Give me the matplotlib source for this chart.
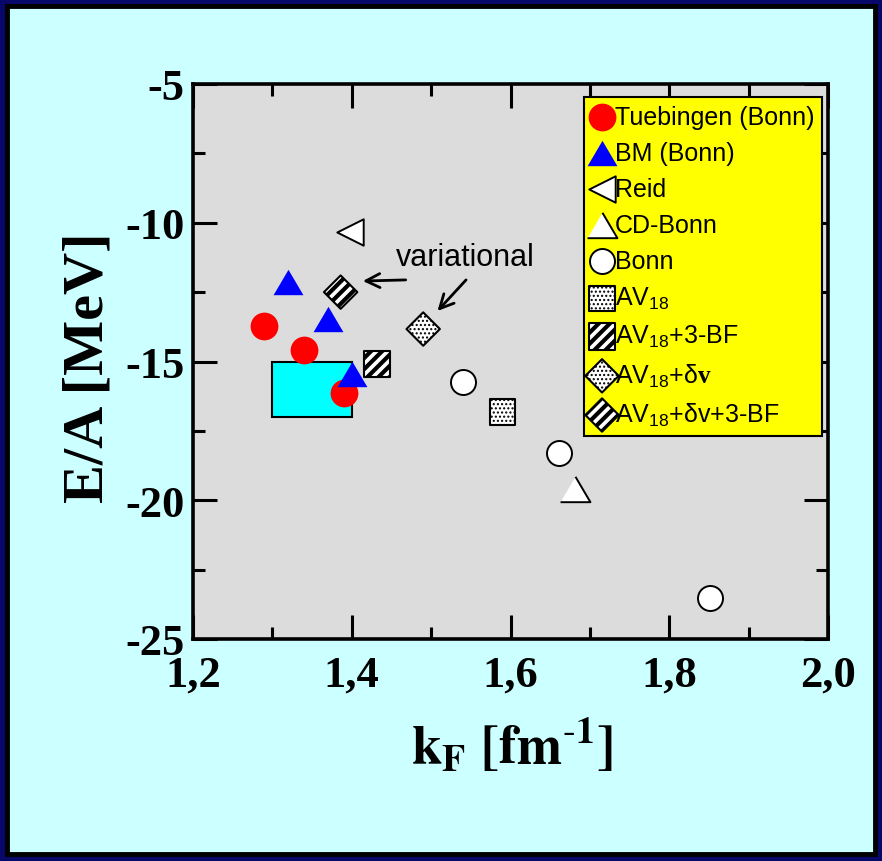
import matplotlib
matplotlib.use("Agg")
import matplotlib.pyplot as plt
from matplotlib.patches import Rectangle

plt.rcParams['font.family'] = ['Liberation Sans', 'DejaVu Sans']
plt.rcParams['mathtext.fontset'] = 'custom'
plt.rcParams['mathtext.rm'] = 'Liberation Sans'
plt.rcParams['mathtext.it'] = 'Liberation Sans:italic'
plt.rcParams['mathtext.bf'] = 'Liberation Serif:bold'

# --- nuclear matter saturation points, k_F [fm^-1] vs E/A [MeV] ---
tueb_kf = [1.289, 1.340, 1.390]
tueb_ea = [-13.72, -14.59, -16.14]
bm_kf = [1.320, 1.370, 1.400]
bm_ea = [-12.14, -13.47, -15.45]
reid_kf = [1.398]
reid_ea = [-10.33]
cdbonn_kf = [1.681]
cdbonn_ea = [-19.58]
bonn_kf = [1.540, 1.661, 1.851]
bonn_ea = [-15.74, -18.30, -23.52]
av18_kf = [1.590]
av18_ea = [-16.82]
av18_3bf_kf = [1.432]
av18_3bf_ea = [-15.09]
av18_dv_kf = [1.490]
av18_dv_ea = [-13.83]
av18_dv_3bf_kf = [1.386]
av18_dv_3bf_ea = [-12.50]

# empirical saturation region
coester_kf = (1.30, 1.40)
coester_ea = (-17.0, -15.0)

# "variational" arrows: (tail, head)
var_text = (1.543, -11.25)
var_arrows = [((1.468, -12.06), (1.414, -12.10)),
              ((1.544, -12.06), (1.508, -13.18))]

x_ticks = [1.2, 1.4, 1.6, 1.8, 2.0]
x_ticklabels = ['1,2', '1,4', '1,6', '1,8', '2,0']
y_ticks = [-25, -20, -15, -10, -5]
y_ticklabels = ['-25', '-20', '-15', '-10', '-5']

TRI_UP = [(-1, -0.85), (1, -0.85), (0, 0.85)]
DOT_LW = 1.0
STRIPE_LW = 3.0


def set_hatch_width(coll, lw):
    if hasattr(coll, 'set_hatch_linewidth'):
        coll.set_hatch_linewidth(lw)
    else:
        coll._hatch_linewidth = lw


fig = plt.figure(figsize=(8.82, 8.62), dpi=100)
fig.patch.set_facecolor('#08086b')
fig.add_artist(Rectangle((7 / 882, 7 / 862), 868 / 882, 848 / 862,
                         transform=fig.transFigure, facecolor='#ccffff',
                         edgecolor='black', linewidth=3.5, zorder=-10))

ax = fig.add_axes([193 / 882, 1 - 640 / 862, 635 / 882, 555 / 862])
ax.set_facecolor('#dcdcdc')

ax.add_patch(Rectangle((coester_kf[0], coester_ea[0]),
                       coester_kf[1] - coester_kf[0],
                       coester_ea[1] - coester_ea[0],
                       facecolor='cyan', edgecolor='black', linewidth=1.5, zorder=2))

handles = []
handles.append(ax.scatter(tueb_kf, tueb_ea, s=20 ** 2, marker='o', color='red',
                          linewidths=0, zorder=3))
handles.append(ax.scatter(bm_kf, bm_ea, s=21.5 ** 2, marker=TRI_UP, color='blue',
                          linewidths=0, zorder=4))
handles.append(ax.scatter(reid_kf, reid_ea, s=19 ** 2, marker='<', facecolor='white',
                          edgecolor='black', linewidths=1.4, zorder=3))
handles.append(ax.scatter(cdbonn_kf, cdbonn_ea, s=21.5 ** 2, marker=TRI_UP,
                          facecolor='white', edgecolor='black', linewidths=1.4, zorder=3))
handles.append(ax.scatter(bonn_kf, bonn_ea, s=18 ** 2, marker='o', facecolor='white',
                          edgecolor='black', linewidths=1.4, zorder=3))
handles.append(ax.scatter(av18_kf, av18_ea, s=18.5 ** 2, marker='s',
                          facecolor='white', edgecolor='black', hatch='....',
                          linewidths=1.5, zorder=3))
handles.append(ax.scatter(av18_3bf_kf, av18_3bf_ea, s=19 ** 2, marker='s',
                          facecolor='white', edgecolor='black', hatch='///',
                          linewidths=1.5, zorder=3))
handles.append(ax.scatter(av18_dv_kf, av18_dv_ea, s=17 ** 2, marker='D',
                          facecolor='white', edgecolor='black', hatch='....',
                          linewidths=1.5, zorder=3))
handles.append(ax.scatter(av18_dv_3bf_kf, av18_dv_3bf_ea, s=17 ** 2, marker='D',
                          facecolor='white', edgecolor='black', hatch='///',
                          linewidths=1.5, zorder=3))

labels = ['Tuebingen (Bonn)', 'BM (Bonn)', 'Reid', 'CD-Bonn', 'Bonn',
          r'AV$_{18}$', r'AV$_{18}$+3-BF', r'AV$_{18}$+δ$\mathbf{v}$',
          r'AV$_{18}$+δv+3-BF']

ax.text(var_text[0], var_text[1], 'variational', fontsize=22,
        ha='center', va='center', zorder=5)
for tail, head in var_arrows:
    ax.annotate('', xy=head, xytext=tail,
                arrowprops=dict(arrowstyle='->', lw=2, color='black',
                                mutation_scale=25, shrinkA=0, shrinkB=0))

ax.set_xlim(1.2, 2.0)
ax.set_ylim(-25, -5)
ax.set_xticks(x_ticks)
ax.set_xticklabels(x_ticklabels)
ax.set_yticks(y_ticks)
ax.set_yticklabels(y_ticklabels)
ax.set_xticks([1.3, 1.5, 1.7, 1.9], minor=True)
ax.set_yticks([-22.5, -17.5, -12.5, -7.5], minor=True)
ax.tick_params(which='both', direction='in', top=True, right=True, width=2.2)
ax.tick_params(which='major', length=17)
ax.tick_params(which='minor', length=8.5)
ax.tick_params(axis='x', pad=11)
ax.tick_params(axis='y', pad=6)
for lab in ax.get_xticklabels() + ax.get_yticklabels():
    lab.set_fontfamily('Liberation Serif')
    lab.set_fontweight('bold')
    lab.set_fontsize(32)
for sp in ax.spines.values():
    sp.set_linewidth(2.6)

ax.set_ylabel('E/A [MeV]', fontfamily='Liberation Serif', fontweight='bold',
              fontsize=42, va='center')
ax.yaxis.set_label_coords(-0.164, 0.49)
ax.set_xlabel(r'$\mathbf{k_F\ [fm^{\text{-}1}]}$', math_fontfamily='stix',
              fontsize=39, va='center')
ax.xaxis.set_label_coords(0.502, -0.19)

leg = ax.legend(handles, labels, loc='upper right', bbox_to_anchor=(0.9906, 0.9766),
                borderaxespad=0, fontsize=18, facecolor='yellow', edgecolor='black',
                framealpha=1, fancybox=False, scatterpoints=1, handlelength=0.8,
                handletextpad=0.1, labelspacing=0.48, borderpad=0.32)
leg.get_frame().set_linewidth(1.5)

for h in handles + leg.legend_handles:
    hatch = h.get_hatch()
    if hatch:
        set_hatch_width(h, STRIPE_LW if '/' in hatch else DOT_LW)

fig.savefig('out.png', dpi=100, facecolor=fig.get_facecolor())
